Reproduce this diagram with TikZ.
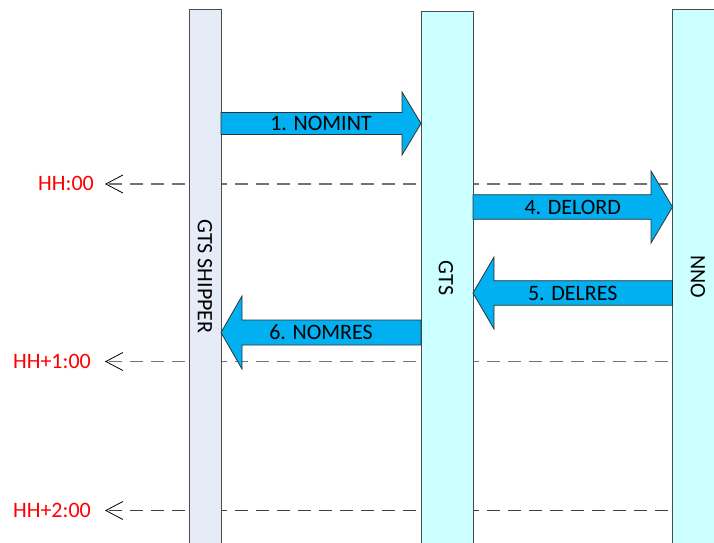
\documentclass[tikz,border=0pt]{standalone}
\usepackage{fontspec}
\setmainfont{Carlito}
\usetikzlibrary{arrows.meta,calc}
\definecolor{shipfill}{HTML}{E6ECF7}
\definecolor{gtsfill}{HTML}{CCFFFF}
\definecolor{msgfill}{HTML}{00B0F0}
\definecolor{hhred}{HTML}{FF0000}
\begin{document}
\begin{tikzpicture}[x=1pt,y=-1pt,
  lane/.style={draw=black!70, line width=1pt, minimum height=620pt, anchor=north, inner sep=0pt, outer sep=0pt},
  lanelabel/.style={rotate=-90, font=\fontsize{22}{24}\selectfont, inner sep=0pt},
  msg/.style={fill=msgfill, draw=black!80, line width=0.8pt, line join=miter},
  msglabel/.style={font=\fontsize{22}{24}\selectfont, inner sep=0pt},
  timeline/.style={draw=black!55, line width=1.4pt, dash pattern=on 13pt off 8pt,
    -{Straight Barb[length=17pt,width=18pt,color=black,line width=0.8pt]}},
  timelabel/.style={font=\fontsize{22}{24}\selectfont, text=hhred, inner sep=0pt, anchor=east}
]
\useasboundingbox (0,0) rectangle (714,542);
\clip (0,0) rectangle (714,542);

% time line anchors
\coordinate (t0) at (105,184);
\coordinate (t1) at (105,361.5);
\coordinate (t2) at (105,510.5);
\coordinate (t0e) at (668,184);
\coordinate (t1e) at (668,361.5);
\coordinate (t2e) at (668,510.5);

\draw[timeline] (t0e) -- (t0);
\draw[timeline] (t1e) -- (t1);
\draw[timeline, draw=black!75] (t2e) -- (t2);

\node[timelabel] (l0) at (94,183.7) {HH:00};
\node[timelabel] (l1) at (91,361.5) {HH+1:00};
\node[timelabel] (l2) at (91,510.5) {HH+2:00};

% lanes
\node[lane, fill=shipfill, minimum width=32pt] (shipper) at (205,9) {};
\node[lane, fill=gtsfill, minimum width=52pt] (gts) at (447,11) {};
\node[lane, fill=gtsfill, minimum width=60pt] (nno) at (702.5,9) {};

\node[lanelabel] (shipperlabel) at (205,276.5) {GTS SHIPPER};
\node[lanelabel] (gtslabel) at (446,278) {GTS};
\node[lanelabel] (nnolabel) at (698,277) {NNO};

% 1. NOMINT
\draw[msg] (shipper.east |- 0,112.5) -- (402,112.5) -- (402,92) -- (gts.west |- 0,123.5)
  -- (402,155) -- (402,134.5) -- (shipper.east |- 0,134.5) -- cycle;
\node[msglabel] (m1) at ($(shipper.east |- 0,123.5)!0.5!(gts.west |- 0,123.5)$) {1. NOMINT};

% 4. DELORD
\draw[msg] (gts.east |- 0,194.7) -- (651,194.7) -- (651,171) -- (nno.west |- 0,207)
  -- (651,243) -- (651,219.3) -- (gts.east |- 0,219.3) -- cycle;
\node[msglabel] (m4) at ($(gts.east |- 0,207)!0.5!(nno.west |- 0,207)$) {4. DELORD};

% 5. DELRES
\draw[msg] (nno.west |- 0,280.7) -- (494,280.7) -- (494,257) -- (gts.east |- 0,293)
  -- (494,329) -- (494,305.3) -- (nno.west |- 0,305.3) -- cycle;
\node[msglabel] (m5) at ($(gts.east |- 0,293)!0.5!(nno.west |- 0,293)$) {5. DELRES};

% 6. NOMRES
\draw[msg] (gts.west |- 0,320) -- (242,320) -- (242,296) -- (shipper.east |- 0,332.5)
  -- (242,369) -- (242,345) -- (gts.west |- 0,345) -- cycle;
\node[msglabel] (m6) at ($(shipper.east |- 0,332.5)!0.5!(gts.west |- 0,332.5)$) {6. NOMRES};
\end{tikzpicture}
\end{document}
